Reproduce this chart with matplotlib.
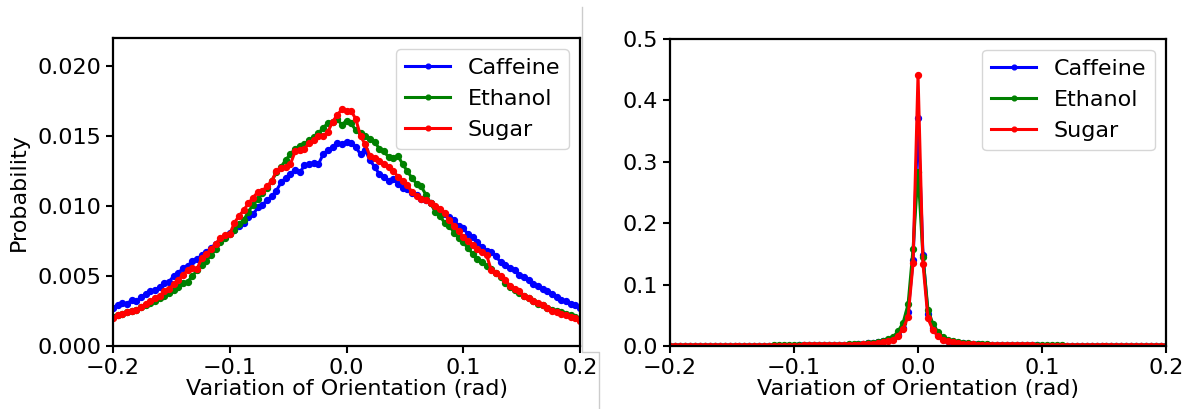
import numpy as np
import matplotlib
matplotlib.use("Agg")
import matplotlib.pyplot as plt
from matplotlib.lines import Line2D

# bin centres (rad)
x = np.round(np.arange(-50, 51) * 0.004, 4)

# left panel: orientation variation distributions
caffeine = [
    0.0027, 0.0029, 0.0031, 0.0030, 0.0033, 0.0032, 0.0035, 0.0037, 0.0039, 0.0040,
    0.0042, 0.0045, 0.0046, 0.0050, 0.0052, 0.0056, 0.0057, 0.0061, 0.0062, 0.0065,
    0.0067, 0.0070, 0.0073, 0.0076, 0.0078, 0.0081, 0.0083, 0.0086, 0.0088, 0.0092,
    0.0094, 0.0099, 0.0101, 0.0104, 0.0107, 0.0111, 0.0117, 0.0120, 0.0123, 0.0126,
    0.0124, 0.0129, 0.0130, 0.0131, 0.0130, 0.0137, 0.0140, 0.0142, 0.0145, 0.0144,
    0.0146,
    0.0145, 0.0142, 0.0137, 0.0140, 0.0133, 0.0128, 0.0123, 0.0121, 0.0118, 0.0119,
    0.0116, 0.0113, 0.0112, 0.0109, 0.0108, 0.0105, 0.0104, 0.0102, 0.0099, 0.0096,
    0.0094, 0.0092, 0.0090, 0.0086, 0.0084, 0.0080, 0.0078, 0.0074, 0.0071, 0.0068,
    0.0067, 0.0064, 0.0060, 0.0058, 0.0056, 0.0054, 0.0051, 0.0049, 0.0047, 0.0044,
    0.0043, 0.0041, 0.0039, 0.0037, 0.0035, 0.0033, 0.0032, 0.0030, 0.0029, 0.0027,
]
ethanol = [
    0.0021, 0.0022, 0.0023, 0.0024, 0.0025, 0.0026, 0.0028, 0.0029, 0.0031, 0.0032,
    0.0034, 0.0036, 0.0038, 0.0040, 0.0042, 0.0045, 0.0046, 0.0050, 0.0054, 0.0058,
    0.0061, 0.0065, 0.0069, 0.0074, 0.0077, 0.0080, 0.0083, 0.0087, 0.0090, 0.0096,
    0.0101, 0.0105, 0.0109, 0.0113, 0.0118, 0.0124, 0.0128, 0.0133, 0.0137, 0.0141,
    0.0143, 0.0144, 0.0147, 0.0149, 0.0152, 0.0156, 0.0159, 0.0160, 0.0162, 0.0158,
    0.0161,
    0.0159, 0.0154, 0.0152, 0.0150, 0.0148, 0.0146, 0.0141, 0.0139, 0.0135, 0.0134,
    0.0136, 0.0130, 0.0125, 0.0120, 0.0116, 0.0114, 0.0108, 0.0102, 0.0096, 0.0093,
    0.0088, 0.0086, 0.0081, 0.0077, 0.0074, 0.0070, 0.0066, 0.0062, 0.0060, 0.0057,
    0.0055, 0.0052, 0.0049, 0.0045, 0.0042, 0.0040, 0.0038, 0.0036, 0.0034, 0.0032,
    0.0030, 0.0029, 0.0027, 0.0026, 0.0025, 0.0024, 0.0023, 0.0022, 0.0021, 0.0019,
]
sugar = [
    0.0020, 0.0022, 0.0023, 0.0024, 0.0025, 0.0026, 0.0028, 0.0030, 0.0032, 0.0034,
    0.0036, 0.0039, 0.0041, 0.0044, 0.0047, 0.0051, 0.0054, 0.0056, 0.0055, 0.0063,
    0.0066, 0.0069, 0.0073, 0.0077, 0.0079, 0.0080, 0.0088, 0.0093, 0.0097, 0.0102,
    0.0106, 0.0110, 0.0111, 0.0114, 0.0118, 0.0125, 0.0127, 0.0128, 0.0130, 0.0139,
    0.0140, 0.0141, 0.0145, 0.0147, 0.0150, 0.0150, 0.0153, 0.0160, 0.0165, 0.0169,
    0.0168,
    0.0168, 0.0162, 0.0150, 0.0144, 0.0136, 0.0134, 0.0132, 0.0130, 0.0128, 0.0125,
    0.0121, 0.0118, 0.0115, 0.0110, 0.0107, 0.0105, 0.0104, 0.0102, 0.0100, 0.0098,
    0.0095, 0.0090, 0.0086, 0.0082, 0.0078, 0.0075, 0.0072, 0.0069, 0.0067, 0.0065,
    0.0054, 0.0052, 0.0050, 0.0047, 0.0043, 0.0041, 0.0039, 0.0036, 0.0034, 0.0032,
    0.0031, 0.0029, 0.0027, 0.0025, 0.0024, 0.0023, 0.0022, 0.0021, 0.0020, 0.0018,
]

# right panel: sharply peaked distributions
caffeine_r = [
    0.0003, 0.0003, 0.0003, 0.0003, 0.0003, 0.0004, 0.0004, 0.0004, 0.0004, 0.0004,
    0.0004, 0.0004, 0.0005, 0.0005, 0.0005, 0.0005, 0.0005, 0.0006, 0.0006, 0.0006,
    0.0006, 0.0007, 0.0007, 0.0007, 0.0008, 0.0008, 0.0009, 0.0009, 0.0010, 0.0010,
    0.0011, 0.0012, 0.0013, 0.0014, 0.0016, 0.0018, 0.0020, 0.0024, 0.0029, 0.0036,
    0.0043, 0.0052, 0.0062, 0.0078, 0.0098, 0.0125, 0.0180, 0.0290, 0.0560, 0.1400,
    0.3710,
    0.1480, 0.0520, 0.0290, 0.0180, 0.0120, 0.0085, 0.0065, 0.0052, 0.0043, 0.0036,
    0.0030, 0.0026, 0.0022, 0.0019, 0.0017, 0.0015, 0.0014, 0.0013, 0.0012, 0.0011,
    0.0010, 0.0010, 0.0009, 0.0009, 0.0008, 0.0008, 0.0007, 0.0007, 0.0007, 0.0006,
    0.0006, 0.0006, 0.0006, 0.0005, 0.0005, 0.0005, 0.0005, 0.0004, 0.0004, 0.0004,
    0.0004, 0.0004, 0.0004, 0.0004, 0.0003, 0.0003, 0.0003, 0.0003, 0.0003, 0.0003,
]
ethanol_r = [
    0.0005, 0.0005, 0.0005, 0.0005, 0.0005, 0.0005, 0.0005, 0.0006, 0.0006, 0.0006,
    0.0006, 0.0006, 0.0006, 0.0007, 0.0007, 0.0007, 0.0007, 0.0007, 0.0008, 0.0008,
    0.0008, 0.0009, 0.0009, 0.0010, 0.0010, 0.0011, 0.0011, 0.0012, 0.0013, 0.0014,
    0.0015, 0.0016, 0.0017, 0.0019, 0.0021, 0.0024, 0.0027, 0.0030, 0.0035, 0.0040,
    0.0047, 0.0056, 0.0068, 0.0085, 0.0110, 0.0150, 0.0240, 0.0380, 0.0680, 0.1580,
    0.2840,
    0.1450, 0.0590, 0.0360, 0.0230, 0.0145, 0.0105, 0.0083, 0.0067, 0.0055, 0.0047,
    0.0040, 0.0035, 0.0030, 0.0027, 0.0024, 0.0021, 0.0019, 0.0017, 0.0016, 0.0015,
    0.0014, 0.0013, 0.0012, 0.0011, 0.0011, 0.0010, 0.0010, 0.0009, 0.0009, 0.0008,
    0.0008, 0.0008, 0.0007, 0.0007, 0.0007, 0.0007, 0.0006, 0.0006, 0.0006, 0.0006,
    0.0006, 0.0005, 0.0005, 0.0005, 0.0005, 0.0005, 0.0005, 0.0005, 0.0005, 0.0005,
]
sugar_r = [
    0.0003, 0.0003, 0.0003, 0.0003, 0.0003, 0.0003, 0.0004, 0.0004, 0.0004, 0.0004,
    0.0004, 0.0004, 0.0004, 0.0005, 0.0005, 0.0005, 0.0005, 0.0005, 0.0006, 0.0006,
    0.0006, 0.0006, 0.0007, 0.0007, 0.0007, 0.0008, 0.0008, 0.0009, 0.0009, 0.0010,
    0.0010, 0.0011, 0.0012, 0.0013, 0.0015, 0.0016, 0.0018, 0.0021, 0.0024, 0.0028,
    0.0033, 0.0039, 0.0048, 0.0060, 0.0078, 0.0105, 0.0170, 0.0280, 0.0480, 0.1350,
    0.4410,
    0.1340, 0.0450, 0.0260, 0.0160, 0.0100, 0.0075, 0.0058, 0.0047, 0.0038, 0.0032,
    0.0027, 0.0023, 0.0020, 0.0018, 0.0016, 0.0015, 0.0013, 0.0012, 0.0011, 0.0010,
    0.0010, 0.0009, 0.0009, 0.0008, 0.0008, 0.0007, 0.0007, 0.0007, 0.0006, 0.0006,
    0.0006, 0.0006, 0.0005, 0.0005, 0.0005, 0.0005, 0.0005, 0.0004, 0.0004, 0.0004,
    0.0004, 0.0004, 0.0004, 0.0004, 0.0003, 0.0003, 0.0003, 0.0003, 0.0003, 0.0003,
]

names = ['Caffeine', 'Ethanol', 'Sugar']
colors = ['blue', 'green', 'red']

fs = 16
plt.rcParams['font.size'] = fs

fig = plt.figure(figsize=(11.92, 4.09), dpi=100)
ax1 = fig.add_axes([0.0948, 0.154, 0.3918, 0.753])
ax2 = fig.add_axes([0.5621, 0.154, 0.4161, 0.751])

for ax, series, ylim in [(ax1, [caffeine, ethanol, sugar], 0.022),
                         (ax2, [caffeine_r, ethanol_r, sugar_r], 0.5)]:
    for name, c, y in zip(names, colors, series):
        ax.plot(x, y, '.-', color=c, label=name, lw=2.2, ms=8.5)
    ax.set_xlim(-0.2, 0.2)
    ax.set_ylim(0, ylim)
    ax.set_xticks([-0.2, -0.1, 0.0, 0.1, 0.2])
    ax.set_xlabel('Variation of Orientation (rad)', fontsize=fs, labelpad=0.5)
    ax.legend(loc='upper right', fontsize=fs, markerscale=0.8)
    ax.tick_params(labelsize=fs, width=1.5, length=5)
    for s in ax.spines.values():
        s.set_linewidth(1.6)

ax1.set_yticks([0, 0.005, 0.010, 0.015, 0.020])
ax1.set_ylabel('Probability', fontsize=fs, labelpad=6)

# thin grey edge of the pasted left panel
W, H = 1192, 409
px = [582, 582, 599, 599]
py = [7, 352, 352, 409]
fig.add_artist(Line2D([p / W for p in px], [1 - p / H for p in py],
                      color='#cccccc', lw=1, transform=fig.transFigure))

fig.savefig('out.png', dpi=100)
